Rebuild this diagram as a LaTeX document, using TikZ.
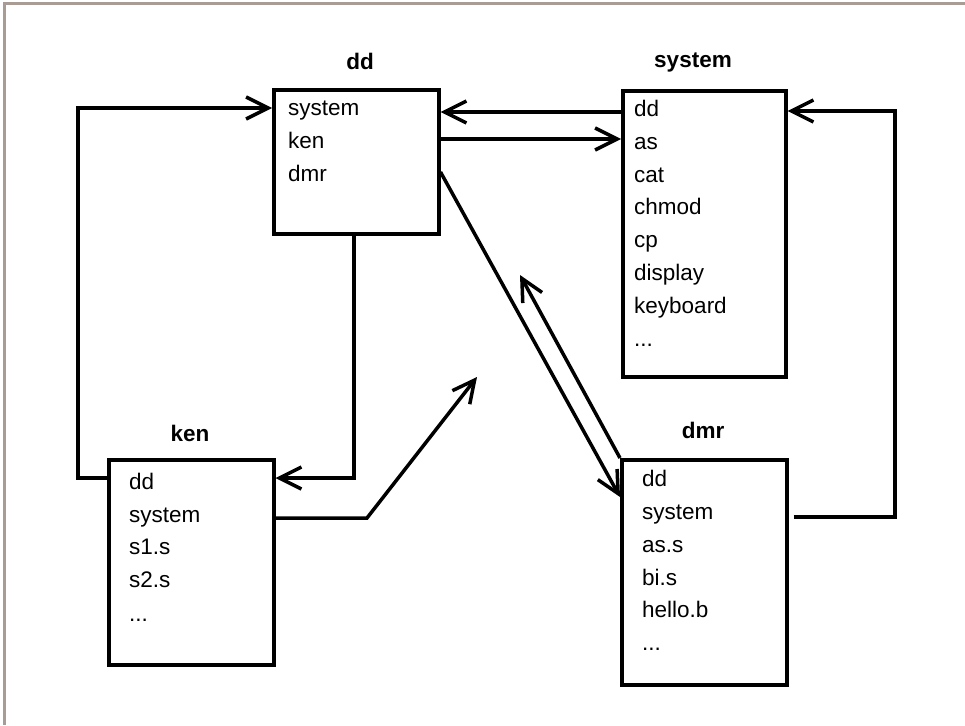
\documentclass[tikz,border=0pt]{standalone}
\usepackage{fontspec}
\setmainfont{Liberation Sans}
\usetikzlibrary{arrows.meta}
\definecolor{framegray}{HTML}{A89C94}
\tikzset{
  box/.style={draw, line width=3.5pt, anchor=north west, inner sep=0pt, minimum width=#1},
  item/.style={anchor=base west, inner sep=0pt, font=\fontsize{22.5}{27}\selectfont},
  title/.style={anchor=base, inner sep=0pt, font=\fontsize{22.5}{27}\selectfont\bfseries},
  conn/.style={line width=3.5pt, line join=miter},
  >={Straight Barb[length=22pt,width=22pt,line width=3.5pt]}
}
\begin{document}
\begin{tikzpicture}[x=1pt,y=-1pt]
\useasboundingbox (0,0) rectangle (965,725);
\fill[white] (0,0) rectangle (965,725);
\draw[framegray, line width=3pt] (4,725) -- (4,4) -- (965,4);

% boxes
\node[box=165pt, minimum height=144pt] (dd) at (272,88) {};
\node[box=163pt, minimum height=286pt] (sys) at (621,89) {};
\node[box=165pt, minimum height=205pt] (ken) at (107,458) {};
\node[box=165pt, minimum height=225pt] (dmr) at (620,458) {};

% titles
\node[title] (ddt) at (360,69) {dd};
\node[title] (syst) at (693,67) {system};
\node[title] (kent) at (190,441) {ken};
\node[title] (dmrt) at (703,438) {dmr};

% dd contents
\node[item] (dd1) at (288,115) {system};
\node[item] (dd2) at (288,148) {ken};
\node[item] (dd3) at (288,181) {dmr};

% system contents
\node[item] (s1) at (634,116) {dd};
\node[item] (s2) at (634,149) {as};
\node[item] (s3) at (634,182) {cat};
\node[item] (s4) at (634,214) {chmod};
\node[item] (s5) at (634,247) {cp};
\node[item] (s6) at (634,280) {display};
\node[item] (s7) at (634,313) {keyboard};
\node[item] (s8) at (634,346) {...};

% ken contents
\node[item] (k1) at (129,489) {dd};
\node[item] (k2) at (129,522) {system};
\node[item] (k3) at (129,554) {s1.s};
\node[item] (k4) at (129,587) {s2.s};
\node[item] (k5) at (129,621) {...};

% dmr contents
\node[item] (m1) at (642,486) {dd};
\node[item] (m2) at (642,519) {system};
\node[item] (m3) at (642,552) {as.s};
\node[item] (m4) at (642,585) {bi.s};
\node[item] (m5) at (642,617) {hello.b};
\node[item] (m6) at (642,650) {...};

% helper coordinates
\coordinate (y108) at (0,108);
\coordinate (y112) at (0,112);
\coordinate (y139) at (0,139);
\coordinate (y172) at (0,172);
\coordinate (y478) at (0,478);
\coordinate (y497) at (0,497);
\coordinate (y518) at (0,518);
\coordinate (y517) at (0,517);
\coordinate (y111) at (0,111);
\coordinate (xl) at (78,0);
\coordinate (xd) at (354,0);
\coordinate (xr) at (895,0);
\coordinate (kbend) at (367,518);
\coordinate (kend) at (477,377);
\coordinate (mend) at (520,275);

% connectors
\draw[conn,->] (ken.west |- y478) -- (xl |- y478) -- (xl |- y108) -- (dd.west |- y108);
\draw[conn,->] (xd |- dd.south) -- (xd |- y478) -- (ken.east |- y478);
\draw[conn,->] (ken.east |- y518) -- (kbend) -- (kend);
\draw[conn,->] (sys.west |- y112) -- (dd.east |- y112);
\draw[conn,->] (dd.east |- y139) -- (sys.west |- y139);
\draw[conn,->] (dd.east |- y172) -- (dmr.west |- y497);
\draw[conn,->] (dmr.north west) -- (mend);
\draw[conn,->] ([xshift=5pt]dmr.east |- y517) -- (xr |- y517) -- (xr |- y111) -- (sys.east |- y111);
\end{tikzpicture}
\end{document}
